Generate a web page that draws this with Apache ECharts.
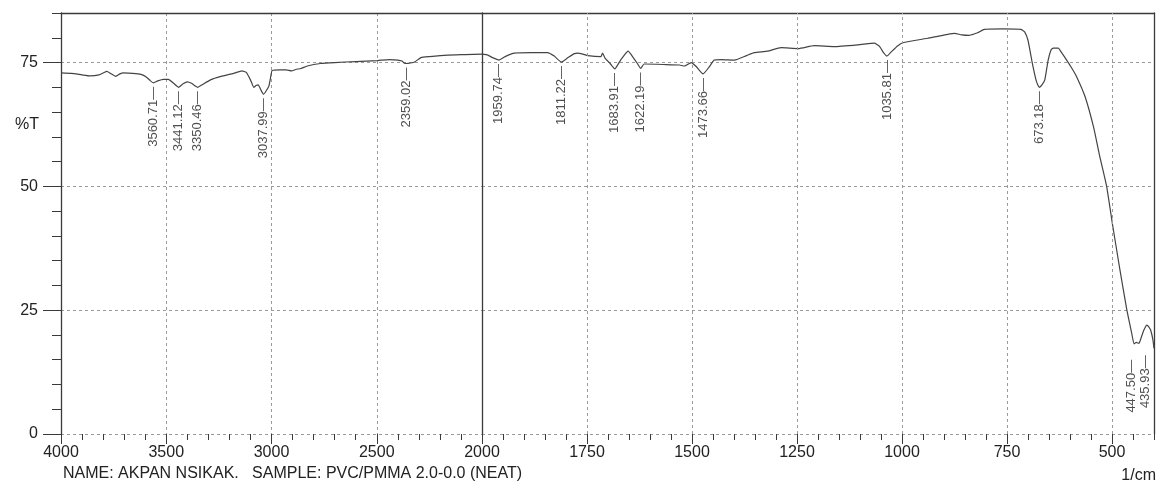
<!DOCTYPE html>
<html><head><meta charset="utf-8">
<script src="https://cdn.jsdelivr.net/npm/echarts@6/dist/echarts.min.js"></script>
<style>html,body{margin:0;padding:0;background:#fff}#c{width:1157px;height:483px}</style>
</head><body><div id="c"></div>
<script>
// Spectrum, high wavenumber section (4000 -> 2000 1/cm)
const waveHigh = [4000,3950,3900,3862,3820,3795,3782,3765,3740,3720,3703,3660,3620,3595,3575,3560.71,3540,3513,3490,3465,3441.12,3420,3400,3380,3360,3350.46,3330,3290,3240,3180,3140,3120,3100,3084,3072,3063,3052,3037.99,3025,3012,3003,2997,2960,2930,2905,2885,2860,2830,2767,2700,2600,2497,2440,2400,2380,2370,2359.02,2340,2320,2290,2250,2163,2080,2000];
const transHigh = [72.9,72.8,72.5,72.3,72.5,73.0,73.2,72.8,72.2,72.7,72.9,72.8,72.6,72.1,71.3,70.9,71.3,71.6,71.6,70.8,70.0,70.7,71.1,70.8,70.2,70.0,70.5,71.5,72.2,72.8,73.3,73.0,71.5,70.0,70.4,70.5,69.6,68.6,69.3,70.3,72.3,73.4,73.5,73.5,73.3,73.6,73.8,74.3,74.8,75.0,75.2,75.4,75.6,75.5,75.3,74.9,74.8,74.9,75.1,76.0,76.2,76.5,76.6,76.7];
// Spectrum, low wavenumber section (2000 -> 400 1/cm)
const waveLow = [2000,1986,1975,1959.74,1945,1923,1880,1844,1828,1811.22,1795,1780,1772,1760,1748,1717,1713,1707,1695,1683.91,1670,1652,1640,1630,1622.19,1614,1566,1530,1518,1502,1490,1473.66,1460,1447,1430,1399,1370,1352,1320,1288,1247,1209,1161,1100,1066,1054,1044,1035.81,1025,1010,998,939,875,858,840,820,804,760,717,708,700,690,680,673.18,666,660,652,645,640,628,620,608,596,584,564,544,529,513,498,481,465,453,447.5,442,435.93,430,424,417,412,408,403,400];
const transLow = [76.7,76.5,76.0,75.5,76.2,76.9,77.0,77.0,76.3,75.1,76.0,76.8,76.9,76.7,76.4,76.2,76.9,75.9,74.8,73.7,75.5,77.3,76.0,74.8,73.8,74.7,74.6,74.5,74.3,75.0,74.2,72.7,74.0,75.5,75.6,75.5,76.4,77.0,77.3,78.0,77.8,78.4,78.2,78.6,78.9,78.3,77.0,76.3,77.2,78.4,79.0,79.9,80.9,80.6,80.5,81.0,81.7,81.8,81.7,81.2,79.5,75.0,71.2,70.0,70.6,71.5,75.5,77.6,77.9,77.9,77.0,75.5,73.9,72.1,68.1,62.0,56.0,50.1,41.9,33.1,25.2,20.3,18.2,18.5,18.3,19.6,21.0,22.0,21.6,21.0,19.2,17.3];
// Peak annotations
const peakWave = [3560.71,3441.12,3350.46,3037.99,2359.02,1959.74,1811.22,1683.91,1622.19,1473.66,1035.81,673.18,447.50,435.93];
const peakTrans = [70.9,70.0,70.0,68.6,74.8,75.5,75.1,73.7,73.8,72.7,76.3,70.0,18.2,18.3];
const peakLabels = ['3560.71','3441.12','3350.46','3037.99','2359.02','1959.74','1811.22','1683.91','1622.19','1473.66','1035.81','673.18','447.50','435.93'];
// Tick labels
const xTicksLow = [500,750,1000,1250,1500,1750];
const yTicks = [0,25,50,75];

const FONT = "'Liberation Sans', Arial, sans-serif";
const AX = '#3a3a3a';
const GRIDC = '#9a9a9a';
// label offsets are in the rotated text frame: [along text (up), across text (right)]
const labelShift = {'447.50': [-12, -3], '435.93': [-8, 7]};

const zip = (xs, ys) => xs.map((x, i) => [x, ys[i]]);
function peakData(high) {
  const out = [];
  peakWave.forEach((w, i) => {
    if ((high && w >= 2000) || (!high && w < 2000)) {
      const item = {value: [w, peakTrans[i]], name: peakLabels[i]};
      if (labelShift[peakLabels[i]]) item.label = {offset: labelShift[peakLabels[i]]};
      out.push(item);
    }
  });
  return out;
}
const peakLabelStyle = {
  show: true, position: 'bottom', distance: 4, rotate: 90,
  align: 'right', verticalAlign: 'middle',
  fontSize: 13, fontFamily: FONT, color: '#222',
  formatter: p => p.name + '\u2014'
};
const dashed = {color: GRIDC, type: [3, 3], width: 1};
const plain = v => String(v);

const chart = echarts.init(document.getElementById('c'), null, {renderer: 'canvas'});
chart.setOption({
  animation: false,
  backgroundColor: '#fff',
  grid: [
    {left: 61, top: 13, width: 421, height: 421},
    {left: 482, top: 13, width: 672, height: 421}
  ],
  xAxis: [
    {gridIndex: 0, type: 'value', min: 2000, max: 4000, interval: 500, inverse: true, position: 'bottom',
     axisLine: {show: false, onZero: false},
     axisTick: {show: true, length: 10, lineStyle: {color: AX}},
     minorTick: {show: true, splitNumber: 5, length: 6, lineStyle: {color: AX}},
     axisLabel: {fontSize: 16, color: '#222', fontFamily: FONT, margin: 11, formatter: plain},
     splitLine: {show: true, lineStyle: dashed}},
    {gridIndex: 1, type: 'value', min: 400, max: 2000, interval: 50, inverse: true, position: 'bottom',
     axisLine: {show: false, onZero: false},
     axisTick: {show: true, length: 6, lineStyle: {color: AX}},
     axisLabel: {show: false}, splitLine: {show: false}},
    {gridIndex: 1, type: 'value', min: 400, max: 2000, inverse: true, position: 'bottom',
     axisLine: {show: false, onZero: false},
     axisTick: {show: true, length: 10, customValues: xTicksLow, lineStyle: {color: AX}},
     axisLabel: {customValues: xTicksLow, fontSize: 16, color: '#222', fontFamily: FONT, margin: 11, formatter: plain},
     splitLine: {show: false}},
    {gridIndex: 0, type: 'value', min: 2000, max: 4000, inverse: true, position: 'top',
     axisLine: {show: true, onZero: false, lineStyle: {color: AX, width: 1.3}},
     axisTick: {show: false}, axisLabel: {show: false}, splitLine: {show: false}},
    {gridIndex: 1, type: 'value', min: 400, max: 2000, inverse: true, position: 'top',
     axisLine: {show: true, onZero: false, lineStyle: {color: AX, width: 1.3}},
     axisTick: {show: false}, axisLabel: {show: false}, splitLine: {show: false}}
  ],
  yAxis: [
    {gridIndex: 0, type: 'value', min: 0, max: 85, interval: 5, position: 'left',
     axisLine: {show: true, onZero: false, lineStyle: {color: AX, width: 1.3}},
     axisTick: {show: true, length: 9, lineStyle: {color: AX}},
     axisLabel: {show: false}, splitLine: {show: false}},
    {gridIndex: 0, type: 'value', min: 0, max: 85, interval: 25, position: 'left',
     axisLine: {show: false, onZero: false},
     axisTick: {show: true, length: 18, customValues: yTicks, lineStyle: {color: AX}},
     axisLabel: {customValues: yTicks, fontSize: 16, color: '#222', fontFamily: FONT, margin: 23},
     splitLine: {show: true, lineStyle: dashed}},
    {gridIndex: 1, type: 'value', min: 0, max: 85, interval: 25, position: 'left',
     axisLine: {show: true, onZero: false, lineStyle: {color: AX, width: 1.3}},
     axisTick: {show: false}, axisLabel: {show: false},
     splitLine: {show: true, lineStyle: dashed}},
    {gridIndex: 1, type: 'value', min: 0, max: 85, position: 'right',
     axisLine: {show: true, onZero: false, lineStyle: {color: AX, width: 1.3}},
     axisTick: {show: false}, axisLabel: {show: false}, splitLine: {show: false}}
  ],
  series: [
    {type: 'line', xAxisIndex: 2, yAxisIndex: 2, data: xTicksLow.map(v => [v, 0]),
     symbol: 'none', lineStyle: {width: 0}, silent: true,
     markLine: {silent: true, symbol: 'none', label: {show: false},
       lineStyle: dashed, data: xTicksLow.map(v => ({xAxis: v}))}},
    {type: 'line', xAxisIndex: 0, yAxisIndex: 1, data: zip(waveHigh, transHigh),
     showSymbol: false, smooth: 0.15, lineStyle: {color: '#444', width: 1.2}, silent: true},
    {type: 'line', xAxisIndex: 2, yAxisIndex: 2, data: zip(waveLow, transLow),
     showSymbol: false, smooth: 0.15, lineStyle: {color: '#444', width: 1.2}, silent: true},
    {type: 'scatter', xAxisIndex: 0, yAxisIndex: 1, data: peakData(true),
     symbolSize: 0, label: peakLabelStyle, silent: true},
    {type: 'scatter', xAxisIndex: 2, yAxisIndex: 2, data: peakData(false),
     symbolSize: 0, label: peakLabelStyle, silent: true}
  ],
  graphic: [
    {type: 'text', x: 39, y: 125, silent: true,
     style: {text: '%T', fontSize: 16, fontFamily: FONT, fill: '#222', align: 'right', verticalAlign: 'middle'}},
    {type: 'text', x: 63, y: 474, silent: true,
     style: {text: 'NAME: AKPAN NSIKAK.   SAMPLE: PVC/PMMA 2.0-0.0 (NEAT)', fontSize: 16, fontFamily: FONT, fill: '#222', align: 'left', verticalAlign: 'middle'}},
    {type: 'text', x: 1156, y: 476, silent: true,
     style: {text: '1/cm', fontSize: 16, fontFamily: FONT, fill: '#222', align: 'right', verticalAlign: 'middle'}}
  ]
});
</script></body></html>
